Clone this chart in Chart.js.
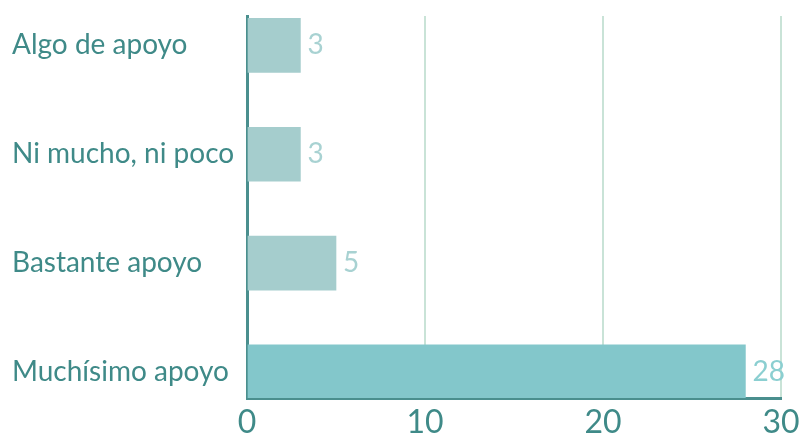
<!DOCTYPE html>
<html lang="es">
<head>
<meta charset="utf-8">
<script src="https://cdn.jsdelivr.net/npm/chart.js@4.4.1/dist/chart.umd.min.js"></script>
<style>
    html, body { margin: 0; padding: 0; background: #ffffff; }
    #wrap { width: 803px; height: 436px; }
</style>
</head>
<body>
<div id="wrap"><canvas id="chart-apoyo"></canvas></div>
<script>
const categories = ['Algo de apoyo', 'Ni mucho, ni poco', 'Bastante apoyo', 'Muchísimo apoyo'];
const counts = [3, 3, 5, 28];
const xTicks = [0, 10, 20, 30];

const barColors = ['#a5cdcd', '#a5cdcd', '#a5cdcd', '#83c7cb'];
const valueColors = ['#a8d2d2', '#a8d2d2', '#a8d2d2', '#8bcfd1'];
const teal = '#4a8f8e';
const textTeal = '#3f8a88';
const gridGreen = '#c9e3d7';

Chart.defaults.font.family = "Lato, sans-serif";

// Spread the category bands so the first and last bars sit on the axis ends
const bandSpread = {
    id: 'bandSpread',
    afterLayout(chart) {
        const y = chart.scales.y;
        y._startValue = -0.27;
        y._valueRange = 3.51;
    }
};

// Count printed just past the end of each bar
const valueLabels = {
    id: 'valueLabels',
    afterDatasetsDraw(chart) {
        const ctx = chart.ctx;
        const meta = chart.getDatasetMeta(0);
        ctx.save();
        ctx.font = '400 28px Lato, sans-serif';
        ctx.textAlign = 'left';
        ctx.textBaseline = 'middle';
        meta.data.forEach((bar, i) => {
            ctx.fillStyle = valueColors[i];
            ctx.fillText(String(counts[i]), bar.x + 7, bar.y);
        });
        ctx.restore();
    }
};

new Chart(document.getElementById('chart-apoyo').getContext('2d'), {
    type: 'bar',
    data: {
        labels: categories,
        datasets: [{
            data: counts,
            backgroundColor: barColors,
            borderWidth: 0,
            barThickness: 54
        }]
    },
    options: {
        indexAxis: 'y',
        responsive: true,
        maintainAspectRatio: false,
        animation: false,
        layout: { padding: { left: 12, top: 16, right: 22, bottom: 0 } },
        scales: {
            x: {
                min: 0,
                max: 30,
                afterBuildTicks: (s) => { s.ticks = xTicks.map(v => ({ value: v })); },
                grid: {
                    color: (c) => (c.tick && c.tick.value === 0) ? 'rgba(0,0,0,0)' : gridGreen,
                    lineWidth: 2,
                    drawTicks: false
                },
                border: { color: teal, width: 3 },
                ticks: { color: textTeal, font: { size: 32 }, padding: 5, maxRotation: 0 },
                afterFit: (s) => {
                    s.height = 38;
                    s.paddingLeft = 0;
                    s.paddingRight = 0;
                }
            },
            y: {
                grid: { display: false, drawTicks: false },
                border: { color: teal, width: 3 },
                ticks: { color: textTeal, font: { size: 28 }, crossAlign: 'far', padding: 12 },
                afterFit: (s) => {
                    s.width = 235;
                    s.paddingTop = 0;
                    s.paddingBottom = 0;
                }
            }
        },
        plugins: { legend: { display: false }, tooltip: { enabled: false } }
    },
    plugins: [bandSpread, valueLabels]
});
</script>
</body>
</html>
